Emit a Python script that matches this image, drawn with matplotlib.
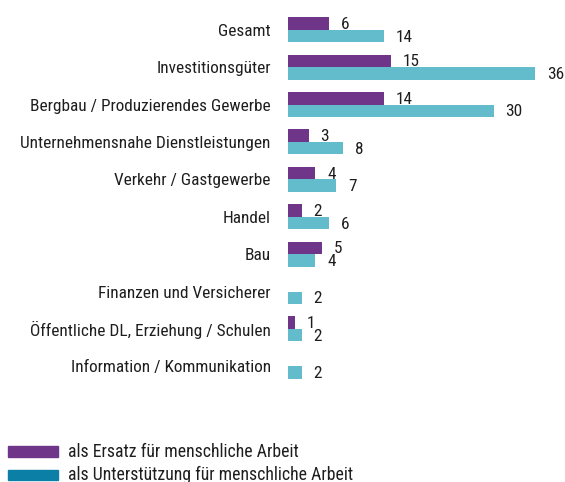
import numpy as np
import matplotlib.pyplot as plt
from matplotlib.patches import Rectangle

categories = ["Gesamt", "Investitionsgüter", "Bergbau / Produzierendes Gewerbe",
              "Unternehmensnahe Dienstleistungen", "Verkehr / Gastgewerbe", "Handel",
              "Bau", "Finanzen und Versicherer", "Öffentliche DL, Erziehung / Schulen",
              "Information / Kommunikation"]
ersatz = [6, 15, 14, 3, 4, 2, 5, 0, 1, 0]
unterstuetzung = [14, 36, 30, 8, 7, 6, 4, 2, 2, 2]
legend_labels = ["als Ersatz für menschliche Arbeit",
                 "als Unterstützung für menschliche Arbeit"]

purple = "#6f3589"
cyan = "#62bccb"
legend_blue = "#0b7fa6"
txt = "#1e1e1e"

plt.rcParams['font.family'] = ['Roboto Condensed', 'DejaVu Sans']
fs = 12.4

W, H = 565, 482
fig = plt.figure(figsize=(W / 100, H / 100), dpi=100)
ax = fig.add_axes([288 / W, 1 - 385 / H, 274.4 / W, 374 / H])

y = np.arange(len(categories))
h = 0.335
ax.barh(y - h / 2, ersatz, height=h, color=purple)
ax.barh(y + h / 2, unterstuetzung, height=h, color=cyan)

# value labels right of the bars
for i in range(len(categories)):
    if ersatz[i] > 0:
        ax.annotate(str(ersatz[i]), (ersatz[i], y[i] - h / 2 + 0.03), xytext=(8.5, 0),
                    textcoords="offset points", va="center", ha="left",
                    fontsize=fs, color=txt)
    ax.annotate(str(unterstuetzung[i]), (unterstuetzung[i], y[i] + h / 2 + 0.03),
                xytext=(8.5, 0), textcoords="offset points", va="center", ha="left",
                fontsize=fs, color=txt)

ax.set_xlim(0, 40)
ax.set_ylim(len(categories) - 0.5, -0.5)
ax.set_yticks(y)
ax.set_yticklabels(categories, fontsize=fs, color=txt)
ax.tick_params(axis="y", length=0, pad=12.5)
ax.set_xticks([])
for s in ax.spines.values():
    s.set_visible(False)

# legend (drawn by hand, colours differ from the bars)
for k, (lab, col) in enumerate(zip(legend_labels, [purple, legend_blue])):
    yc = 451.7 + 23.5 * k
    fig.patches.append(Rectangle((8 / W, 1 - (yc + 5) / H), 50 / W, 10.5 / H,
                                 transform=fig.transFigure, color=col))
    fig.text(68 / W, 1 - yc / H, lab, fontsize=12.8, color=txt, va="center", ha="left")

fig.savefig("out.png", dpi=100)
